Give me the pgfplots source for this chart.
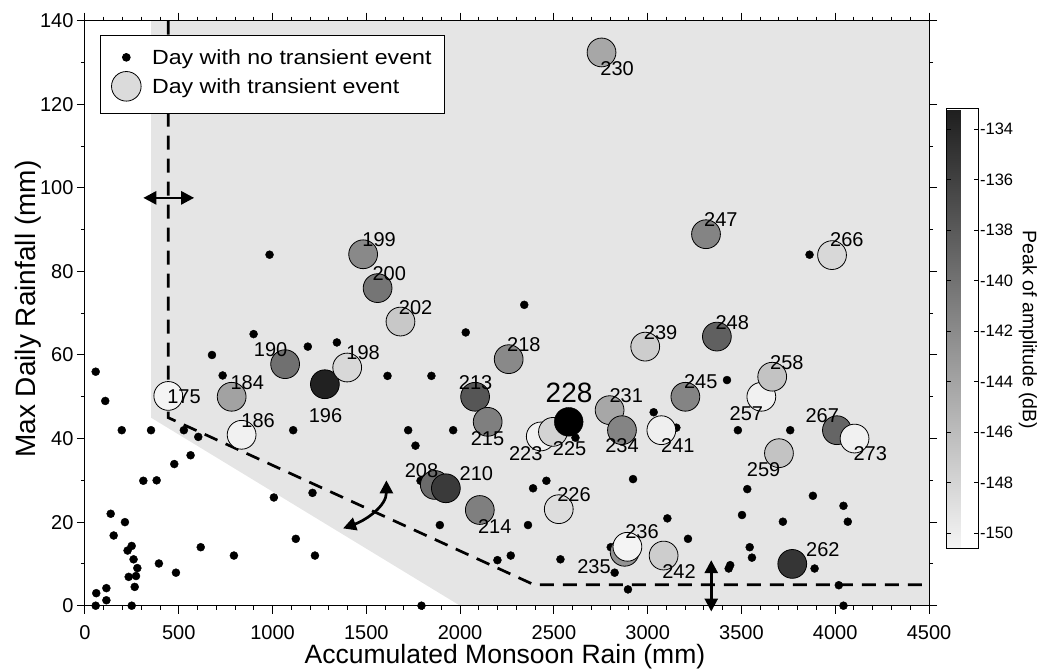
\documentclass[border=0pt]{standalone}
\usepackage{fontspec}
\setmainfont{Liberation Sans}
\newfontfamily\legfont{Liberation Sans}[FakeStretch=1.13]
\usepackage{pgfplots}
\usepackage{pgfplotstable}
\pgfplotsset{compat=1.18}
\usetikzlibrary{arrows.meta}

\pgfplotstableread{
x y
57 56
108 49
196 42
352 42
527 42
604 40.4
563 36
476 33.9
311 29.9
382 30
137 22
213 20
153 16.8
227 13.2
249 14.3
259 11.1
279 9
233 6.9
272 7.1
265 4.5
60 3
114 4.2
114 1.3
57 0
249 0
394 10.1
485 7.9
617 14
794 12
1007 25.9
1213 27
1124 16
1226 12
1110 42
899 65
677 60
734 55.1
1188 62
1343 63
1613 55
1847 55
1723 42
1762 38.3
1789 29.9
1892 19.3
1794 0
984 84
2030 65.4
1963 42
2389 28.1
2460 29.9
2362 19.3
2199 10.9
2270 12
2535 11.1
2615 40.2
3032 46.3
3153 42.6
2922 30.3
3105 20.9
3215 16
2824 7.9
2895 3.9
2803 14
3423 54
3481 42
3760 42
3531 27.9
3503 21.7
3721 20.1
3544 14
3556 11.5
3440 9.7
3432 8.9
3881 26.3
4044 23.9
4067 20.1
3890 8.9
4019 4.9
4044 0
3863 84
2342 72
}\nodots

\pgfplotstableread{
day x y c
175 444 50.2 -150.5
184 782 50 -143.95
186 835 40.9 -150.3
190 1067 57.8 -139.86
196 1279 53 -133.5
198 1398 57 -148.25
199 1483 84.1 -141.9
200 1560 76 -140.26
202 1682 68 -147.0
208 1865 28.9 -139.45
210 1924 28.1 -135.56
213 2080 50 -137.8
214 2105 22.9 -141.1
215 2147 44 -141.1
218 2259 59 -141.9
223 2430 40.5 -150.3
225 2495 41.6 -147.84
226 2526 23.1 -148.66
230 2754 132.4 -144.36
231 2797 46.8 -144.36
234 2863 42 -141.5
235 2877 12.9 -142.7
236 2892 14.1 -150.5
239 2987 62 -147.4
241 3073 42 -150.1
242 3085 12 -147.4
245 3201 50 -141.5
247 3311 88.9 -141.5
248 3369 64.4 -138.6
257 3606 50 -150.3
258 3664 54.8 -146.6
259 3700 36.5 -146.6
262 3771 10 -135.15
266 3983 83.9 -148.25
267 4009 42 -139.0
273 4103 40 -150.3
}\bubbles

\newcommand{\lab}[3]{\coordinate (L#3) at (axis cs:#1,#2);}

\begin{document}
\begin{tikzpicture}
\path[use as bounding box] (-85bp,-63.3bp) rectangle (954bp,605.7bp);
\begin{axis}[
  name=ax, at={(0,0)}, anchor=south west,
  scale only axis, width=844bp, height=585bp,
  xmin=0, xmax=4500, ymin=0, ymax=140,
  clip=false, axis on top,
  xtick distance=500, ytick distance=20,
  minor x tick num=4, minor y tick num=1,
  tick align=outside, xtick pos=both, ytick pos=both,
  xticklabel pos=bottom, yticklabel pos=left,
  major tick length=8bp, minor tick length=4bp,
  axis line style={line width=1bp},
  every tick/.style={black, line width=1bp},
  scaled ticks=false,
  /pgf/number format/assume math mode=true,
  /pgf/number format/1000 sep={},
  tick label style={font=\fontsize{20bp}{24bp}\selectfont},
  xticklabel style={yshift=-11bp, inner sep=1bp},
  label style={font=\fontsize{26.5bp}{32bp}\selectfont},
  xlabel={Accumulated Monsoon Rain (mm)},
  ylabel={Max Daily Rainfall (mm)},
  xlabel style={at={(axis description cs:0.4976,-0.0985)}, anchor=base, inner sep=1bp},
  ylabel style={at={(axis description cs:-0.0675,0.507)}, anchor=center, font=\fontsize{28bp}{33bp}\selectfont},
  colormap={cbgray}{gray(0cm)=(0.96); gray(1cm)=(0.12)},
  point meta min=-150.6, point meta max=-133.2,
  colorbar,
  colorbar style={
    scale only axis,
    at={(852.9bp,496.7bp)}, anchor=north west,
    width=32bp, height=439.3bp,
    ytick={-150,-148,-146,-144,-142,-140,-138,-136,-134},
    yticklabels={-150,-148,-146,-144,-142,-140,-138,-136,-134},
    ytick pos=both, yticklabel pos=right,
    tick label style={font=\fontsize{16.5bp}{19bp}\selectfont, inner sep=1.5bp},
    major tick length=4.5bp, tick align=inside,
    every tick/.style={black, line width=1bp},
    axis line style={line width=1bp},
    ylabel={Peak of amplitude (dB)},
    ylabel style={rotate=180, at={(axis description cs:2.55,0.497)}, anchor=center, inner sep=0pt, font=\fontsize{19.5bp}{23bp}\selectfont},
  },
  legend style={
    at={(axis description cs:0.0178,0.9761)}, anchor=north west,
    draw=black, fill=white, line width=1bp,
    font=\legfont\fontsize{20.5bp}{24bp}\selectfont,
    inner xsep=11bp, inner ysep=12bp, row sep=4bp, column sep=9bp,
    nodes={inner sep=2bp},
  },
  legend cell align=left,
]
% shaded region
\addplot[fill=black!10, draw=none, forget plot] coordinates {(352,140) (352,45) (2000,0) (4500,0) (4500,140)} --cycle;
% dashed boundary
\addplot[black, line width=2.7bp, dash pattern=on 14bp off 9bp, forget plot] coordinates {(444,140) (444,45) (2395,5) (4500,5)};

\addlegendimage{only marks, mark=*, mark size=3.8bp, black}
\addlegendentry{Day with no transient event}
\addlegendimage{only marks, mark=*, mark size=14.8bp, draw=black, line width=0.8bp, fill=black!14}
\addlegendentry{Day with transient event}

\addplot[only marks, mark=*, mark size=4bp, black, forget plot] table[x=x, y=y] {\nodots};
\addplot[scatter, only marks, mark=*, mark size=14.4bp, scatter src=explicit,
  scatter/use mapped color={draw=black, fill=mapped color}, line width=0.8bp, forget plot]
  table[x=x, y=y, meta=c] {\bubbles};
\addplot[only marks, mark=*, mark size=14.4bp, draw=black, fill=black, forget plot] coordinates {(2579,44)};

% arrows
\draw[line width=2.7bp, {Triangle[length=13bp,width=13bp]}-{Triangle[length=13bp,width=13bp]}] (axis cs:311,97.6) -- (axis cs:582,97.6);
\draw[line width=2.7bp, {Triangle[length=13bp,width=13bp]}-{Triangle[length=13bp,width=13bp]}] (axis cs:1376,18.5) to[out=20,in=-90] (axis cs:1607,30);
\draw[line width=2.7bp, {Triangle[length=13bp,width=13bp]}-{Triangle[length=13bp,width=13bp]}] (axis cs:3339,10.9) -- (axis cs:3339,-1.4);

% label anchor positions
\lab{528}{50}{175}
\lab{865}{53.4}{184}
\lab{923}{44.4}{186}
\lab{990}{61.4}{190}
\lab{1282}{45.6}{196}
\lab{1483}{60.6}{198}
\lab{1568}{87.5}{199}
\lab{1622}{79.4}{200}
\lab{1763}{71.4}{202}
\lab{1794}{32.3}{208}
\lab{2087}{31.5}{210}
\lab{2083}{53.5}{213}
\lab{2146}{40.1}{215}
\lab{2340}{62.6}{218}
\lab{2185}{18.9}{214}
\lab{2350}{36.3}{223}
\lab{2584}{37.7}{225}
\lab{2607}{26.5}{226}
\lab{2886}{50.2}{231}
\lab{2863}{38.3}{234}
\lab{2714}{9.3}{235}
\lab{2970}{17.7}{236}
\lab{3069}{65.4}{239}
\lab{3161}{38.3}{241}
\lab{3167}{8.1}{242}
\lab{3283}{53.6}{245}
\lab{3451}{67.8}{248}
\lab{3526}{46}{257}
\lab{3742}{58.2}{258}
\lab{3618}{32.6}{259}
\lab{3934}{13.5}{262}
\lab{3931}{45.6}{267}
\lab{4187}{36.3}{273}
\lab{2837}{128.6}{230}
\lab{3390}{92.3}{247}
\lab{4062}{87.5}{266}
\lab{2581}{51}{228}
\end{axis}
\begin{scope}[every node/.style={font=\fontsize{20bp}{24bp}\selectfont, inner sep=0pt, anchor=center}]
\foreach \d in {175,184,186,190,196,198,199,200,202,208,210,213,215,218,214,223,225,226,231,234,235,236,239,241,242,245,248,257,258,259,262,267,273,230,247,266}{
  \node at (L\d) {\d};
}
\node[font=\fontsize{28bp}{33bp}\selectfont] at (L228) {228};
\end{scope}
\end{tikzpicture}
\end{document}
